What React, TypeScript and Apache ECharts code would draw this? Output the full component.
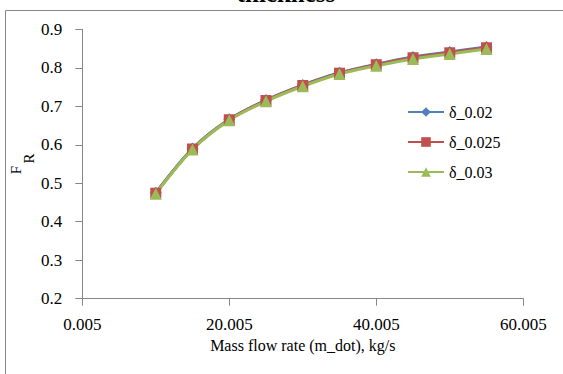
import React, { useEffect, useRef } from "react";
import * as echarts from "echarts";

const massFlow = [10, 15, 20, 25, 30, 35, 40, 45, 50, 55];
const fr002 = [0.475, 0.590, 0.666, 0.716, 0.755, 0.787, 0.809, 0.828, 0.841, 0.854];
const fr0025 = [0.474, 0.589, 0.665, 0.715, 0.754, 0.786, 0.808, 0.826, 0.839, 0.852];
const fr003 = [0.473, 0.588, 0.664, 0.713, 0.752, 0.784, 0.805, 0.823, 0.836, 0.849];
const seriesNames = ["δ_0.02", "δ_0.025", "δ_0.03"];
const xTicks = [0.005, 20.005, 40.005, 60.005];
const yTicks = [0.2, 0.3, 0.4, 0.5, 0.6, 0.7, 0.8, 0.9];
const xTitle = "Mass flow rate (m_dot), kg/s";
const chartTitle = "thickness";

const FONT = "Liberation Serif";
const AXIS = "#868686";

export default function App() {
  const ref = useRef<HTMLDivElement>(null);
  useEffect(() => {
    if (!ref.current) return;
    const chart = echarts.init(ref.current, undefined, { renderer: "svg" });
    const pts = (ys: number[]) => massFlow.map((x, i) => [x, ys[i]]);
    chart.setOption({
      animation: false,
      backgroundColor: "#ffffff",
      textStyle: { fontFamily: FONT },
      grid: { left: 82.3, right: 39.7, top: 29.3, bottom: 75.3 },
      legend: {
        orient: "vertical",
        left: 402,
        top: 99,
        itemWidth: 36,
        itemHeight: 12,
        itemGap: 14,
        textStyle: { fontFamily: FONT, fontSize: 16, color: "#000" },
        data: seriesNames,
      },
      xAxis: {
        type: "value",
        min: xTicks[0],
        max: xTicks[xTicks.length - 1],
        name: xTitle,
        nameLocation: "middle",
        nameGap: 31,
        nameTextStyle: { fontFamily: FONT, fontSize: 16, color: "#000" },
        axisLine: { show: true, lineStyle: { color: AXIS, width: 1 } },
        axisTick: { show: true, length: 7, customValues: xTicks, lineStyle: { color: AXIS } },
        splitLine: { show: false },
        axisLabel: {
          customValues: xTicks,
          fontFamily: FONT,
          fontSize: 17,
          color: "#000",
          margin: 17,
          formatter: (v: number) => v.toFixed(3),
        },
      },
      yAxis: {
        type: "value",
        min: yTicks[0],
        max: yTicks[yTicks.length - 1],
        interval: 0.1,
        axisLine: { show: true, lineStyle: { color: AXIS, width: 1 } },
        axisTick: { show: true, length: 7, lineStyle: { color: AXIS } },
        splitLine: { show: false },
        axisLabel: {
          fontFamily: FONT,
          fontSize: 17,
          color: "#000",
          margin: 20,
          padding: [0, 0, 6, 0],
          formatter: (v: number) => v.toFixed(1),
        },
      },
      graphic: [
        {
          type: "rect",
          shape: { x: 5.5, y: 10.5, width: 700, height: 500 },
          style: { fill: "none", stroke: AXIS, lineWidth: 1 },
          silent: true,
        },
        {
          type: "text",
          x: 286,
          y: -6.5,
          style: {
            text: chartTitle,
            font: `bold 25px ${FONT}`,
            fill: "#000",
            align: "center",
            verticalAlign: "middle",
          },
        },
        {
          type: "text",
          x: 16,
          y: 170,
          rotation: Math.PI / 2,
          style: {
            text: "F",
            font: `15px ${FONT}`,
            fill: "#000",
            align: "center",
            verticalAlign: "middle",
          },
        },
        {
          type: "text",
          x: 29,
          y: 158.5,
          rotation: Math.PI / 2,
          style: {
            text: "R",
            font: `15px ${FONT}`,
            fill: "#000",
            align: "center",
            verticalAlign: "middle",
          },
        },
      ],
      series: [
        {
          name: seriesNames[0],
          type: "line",
          data: pts(fr002),
          smooth: 0.3,
          symbol: "diamond",
          symbolSize: 12,
          color: "#4F81BD",
          lineStyle: { width: 3, color: "#4F81BD" },
          itemStyle: { color: "#4F81BD" },
        },
        {
          name: seriesNames[1],
          type: "line",
          data: pts(fr0025),
          smooth: 0.3,
          symbol: "rect",
          symbolSize: 11,
          color: "#C0504D",
          lineStyle: { width: 3, color: "#C0504D" },
          itemStyle: { color: "#C0504D" },
        },
        {
          name: seriesNames[2],
          type: "line",
          data: pts(fr003),
          smooth: 0.3,
          symbol: "triangle",
          symbolSize: 12,
          color: "#9BBB59",
          lineStyle: { width: 3, color: "#9BBB59" },
          itemStyle: { color: "#9BBB59" },
        },
      ],
    });
    return () => chart.dispose();
  }, []);
  return (
    <div
      ref={ref}
      style={{ position: "fixed", left: 0, top: 0, width: 563, height: 374 }}
    />
  );
}
